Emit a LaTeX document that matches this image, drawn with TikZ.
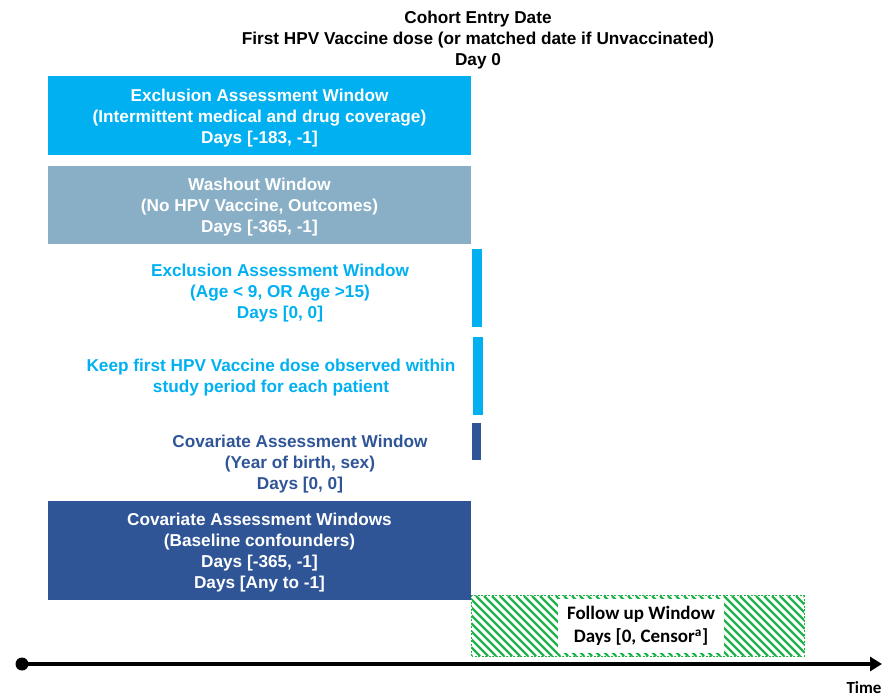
\documentclass[tikz,border=0pt]{standalone}
\usepackage{fontspec}
\setmainfont{Liberation Sans}
\newfontfamily\calib{Carlito}
\usetikzlibrary{arrows.meta}
\definecolor{cyanb}{HTML}{00B0F0}
\definecolor{washb}{HTML}{89AFC6}
\definecolor{darkb}{HTML}{2F5597}
\definecolor{hatchg}{HTML}{22B24C}
\begin{document}
\begin{tikzpicture}[x=1pt,y=-1pt,
  every node/.style={font=\bfseries\fontsize{17.2}{21}\selectfont, align=center, inner sep=0pt},
  wbox/.style={minimum width=423pt, draw=none},
  wtext/.style={text=white, yshift=-2.5pt},
  barbox/.style={minimum width=10pt},
  calfont/.style={font=\calib\bfseries\fontsize{19}{23}\selectfont}]
\useasboundingbox (0,0) rectangle (883,699);
\node (title) at (478,40) {Cohort Entry Date\\First HPV Vaccine dose (or matched date if Unvaccinated)\\Day 0};
\node[wbox, fill=cyanb, minimum height=79pt] (excl1) at (259.5,115.5) {};
\node[wtext] (excl1t) at (excl1.center) {Exclusion Assessment Window\\(Intermittent medical and drug coverage)\\Days [-183, -1]};
\node[wbox, fill=washb, minimum height=78pt] (wash) at (259.5,205) {};
\node[wtext] (washt) at (wash.center) {Washout Window\\(No HPV Vaccine, Outcomes)\\Days [-365, -1]};
\node[barbox, fill=cyanb, minimum height=78pt] (bar1) at (477,288) {};
\node[text=cyanb] (excl2) at (280,293) {Exclusion Assessment Window\\(Age < 9, OR Age >15)\\Days [0, 0]};
\node[barbox, fill=cyanb, minimum height=78pt] (bar2) at (478,376) {};
\node[text=cyanb] (keep) at (271,378) {Keep first HPV Vaccine dose observed within\\study period for each patient};
\node[barbox, fill=darkb, minimum height=37pt, minimum width=9pt] (bar3) at (476.5,441.5) {};
\node[text=darkb] (cov1) at (300,464) {Covariate Assessment Window\\(Year of birth, sex)\\Days [0, 0]};
\node[wbox, fill=darkb, minimum height=99pt] (cov2) at (259.5,550.5) {};
\node[wtext] (cov2t) at (cov2.center) {Covariate Assessment Windows\\(Baseline confounders)\\Days [-365, -1]\\Days [Any to -1]};
% follow-up hatched window
\node[minimum width=332pt, minimum height=60pt] (follow) at (638,626) {};
\begin{scope}
  \clip (follow.south west) rectangle (follow.north east);
  \foreach \i in {0,...,50} {
    \draw[hatchg, line width=2.4pt] (412+\i*8,596) -- ++(60,60);
  }
\end{scope}
\draw[hatchg, line width=1pt, dash pattern=on 2pt off 1.5pt] (follow.south west) rectangle (follow.north east);
\node[fill=white, minimum width=166pt, minimum height=54pt, calfont] (fl) at (641,626) {Follow up Window\\Days [0, Censor\textsuperscript{a}]};
\node[circle, fill=black, minimum size=13pt] (dot) at (22,664) {};
\coordinate (tend) at (882,664);
\draw[line width=4pt, -{Triangle[length=12pt,width=14pt]}] (dot.center) -- (tend);
\node[font=\calib\bfseries\fontsize{17}{20}\selectfont] (time) at (864,688) {Time};
\end{tikzpicture}
\end{document}
